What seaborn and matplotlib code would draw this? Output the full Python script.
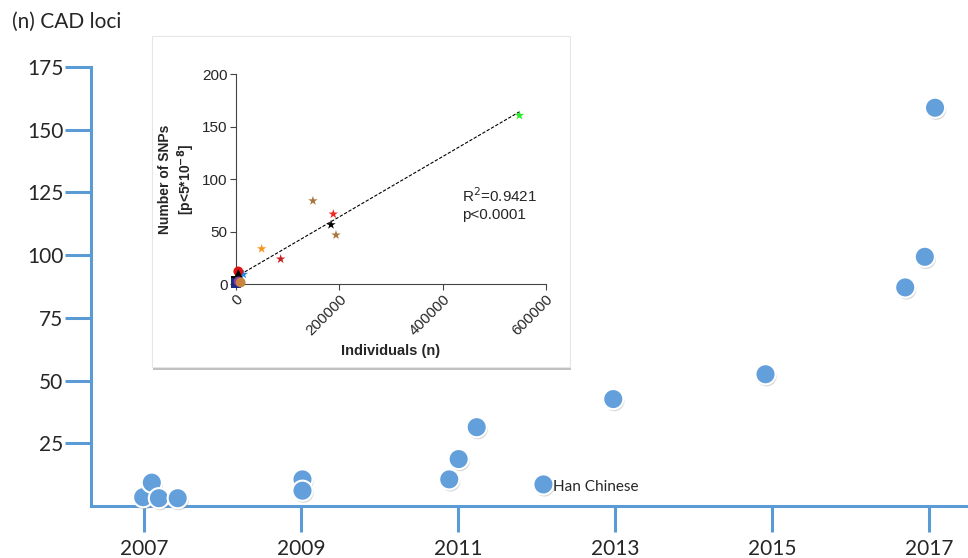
import numpy as np
import pandas as pd
import matplotlib
matplotlib.use("Agg")
import matplotlib.pyplot as plt
from matplotlib import patheffects as pe
from matplotlib.patches import Rectangle
import seaborn as sns

# main chart: number of CAD loci per GWAS publication year
years = [2006.99, 2007.10, 2007.19, 2007.43, 2009.02, 2009.02,
         2010.89, 2011.01, 2011.24, 2012.09, 2012.98,
         2014.92, 2016.70, 2016.95, 2017.08]
loci = [3.5, 9.3, 3.1, 3.1, 10.6, 6.1,
        10.6, 18.7, 31.4, 8.6, 42.6,
        52.5, 87.1, 99.3, 158.7]
year_ticks = [2007, 2009, 2011, 2013, 2015, 2017]
loci_ticks = [25, 50, 75, 100, 125, 150, 175]
han_year, han_loci = 2012.09, 8.6

# inset: SNPs vs sample size
inset_n = [500, 300, 549000, 149000, 188500, 184000, 193700, 49700, 86500, 14200,
           4500, 4500, 5000, 9000]
inset_snps = [3.0, 1.0, 160.7, 79.3, 66.7, 56.5, 46.7, 33.6, 23.8, 9.2,
              12.0, 9.5, 2.5, 1.5]
inset_marker = ["square", "square", "star", "star", "star", "star", "star", "star",
                "star", "star", "circle", "triangle", "circle", "circle"]
inset_color = ["#000000", "#1a2a80", "#22ee22", "#a8763e", "#f0241c", "#000000",
               "#a8763e", "#f7941d", "#c81e1e", "#1e88e5", "#e01010", "#000000",
               "#8b3a9e", "#c8843c"]

blue = "#5B9BD5"

sns.set_style("white")
plt.rcParams["font.family"] = ["Lato", "DejaVu Sans"]

fig = plt.figure(figsize=(9.68, 5.58), dpi=100)
ax = fig.add_axes([0.094, 0.0932, 0.906, 0.787])

sns.scatterplot(x=years, y=loci, ax=ax, s=210, color="#629FDB",
                edgecolor="white", linewidth=1.5, zorder=3, clip_on=False)
ax.collections[0].set_path_effects([
    pe.SimplePatchShadow(offset=(0.8, -1.5), alpha=0.3, shadow_rgbFace="gray"),
    pe.Normal()])

ax.set_xlim(2006.325, 2017.5)
ax.set_ylim(0, 175)
ax.set_xticks(year_ticks)
ax.set_yticks(loci_ticks)
ax.set_xticklabels([str(y) for y in year_ticks])
ax.set_yticklabels([str(v) for v in loci_ticks])
for s in ["top", "right"]:
    ax.spines[s].set_visible(False)
for s in ["left", "bottom"]:
    ax.spines[s].set_color(blue)
    ax.spines[s].set_linewidth(2.2)
ax.tick_params(axis="y", left=True, length=19, width=2.2, color=blue, pad=1, labelsize=15)
ax.tick_params(axis="x", bottom=True, length=19, width=2.2, color=blue, pad=5, labelsize=15)
ax.set_xlabel("")
ax.set_ylabel("")

ax.annotate("Han Chinese", xy=(han_year, han_loci), xytext=(7, -1.7),
            textcoords="offset points", ha="left", va="center", fontsize=11)

fig.text(0.0124, 1 - 22 / 558, "(n) CAD loci", ha="left", va="center", fontsize=15)

# inset frame
box = Rectangle((152 / 968, 1 - 367 / 558), (570 - 152) / 968, (367 - 36) / 558,
                transform=fig.transFigure, facecolor="white", edgecolor="#e6e6e6",
                lw=0.8, zorder=2)
box.set_path_effects([pe.SimplePatchShadow(offset=(0.5, -2), alpha=0.35), pe.Normal()])
fig.add_artist(box)

axin = fig.add_axes([0.2438, 0.491, 0.320, 0.376])
axin.set_zorder(5)
axin.patch.set_alpha(0)

inset_df = pd.DataFrame({"n": inset_n, "snps": inset_snps,
                         "marker": inset_marker, "color": inset_color})

sns.regplot(data=inset_df, x="n", y="snps", ax=axin, scatter=False, ci=None,
            line_kws=dict(color="black", ls=(0, (3, 1.5)), lw=0.8))
sns.scatterplot(data=inset_df, x="n", y="snps", hue="color", style="marker",
                palette=dict(zip(inset_color, inset_color)),
                markers={"star": "*", "circle": "o", "triangle": "^", "square": "s"},
                s=50, edgecolor="none", legend=False, ax=axin, clip_on=False, zorder=3)

inset_font = ["Liberation Sans", "DejaVu Sans"]
axin.set_xlim(0, 600000)
axin.set_ylim(0, 200)
axin.set_xticks([0, 200000, 400000, 600000])
axin.set_yticks([0, 50, 100, 150, 200])
axin.set_xticklabels(["0", "200000", "400000", "600000"], rotation=45, ha="right",
                     rotation_mode="anchor", family=inset_font, fontsize=11)
axin.set_yticklabels(["0", "50", "100", "150", "200"], family=inset_font, fontsize=11)
for s in ["top", "right"]:
    axin.spines[s].set_visible(False)
for s in ["left", "bottom"]:
    axin.spines[s].set_color("#444444")
    axin.spines[s].set_linewidth(0.8)
axin.tick_params(left=True, bottom=True, length=4, width=0.8, color="#444444",
                 direction="out", pad=2)
axin.set_xlabel("Individuals (n)", family=inset_font, fontsize=10.5,
                fontweight="bold", labelpad=4)
axin.set_ylabel("Number of SNPs\n[p<5*10$^{\\mathbf{-8}}$]", family=inset_font,
                fontsize=10, fontweight="bold", labelpad=4)
axin.text(0.729, 0.382, "R$^2$=0.9421\np<0.0001", transform=axin.transAxes,
          ha="left", va="center", fontsize=11, family=inset_font, linespacing=1.25)

fig.savefig("out.png", dpi=100)
